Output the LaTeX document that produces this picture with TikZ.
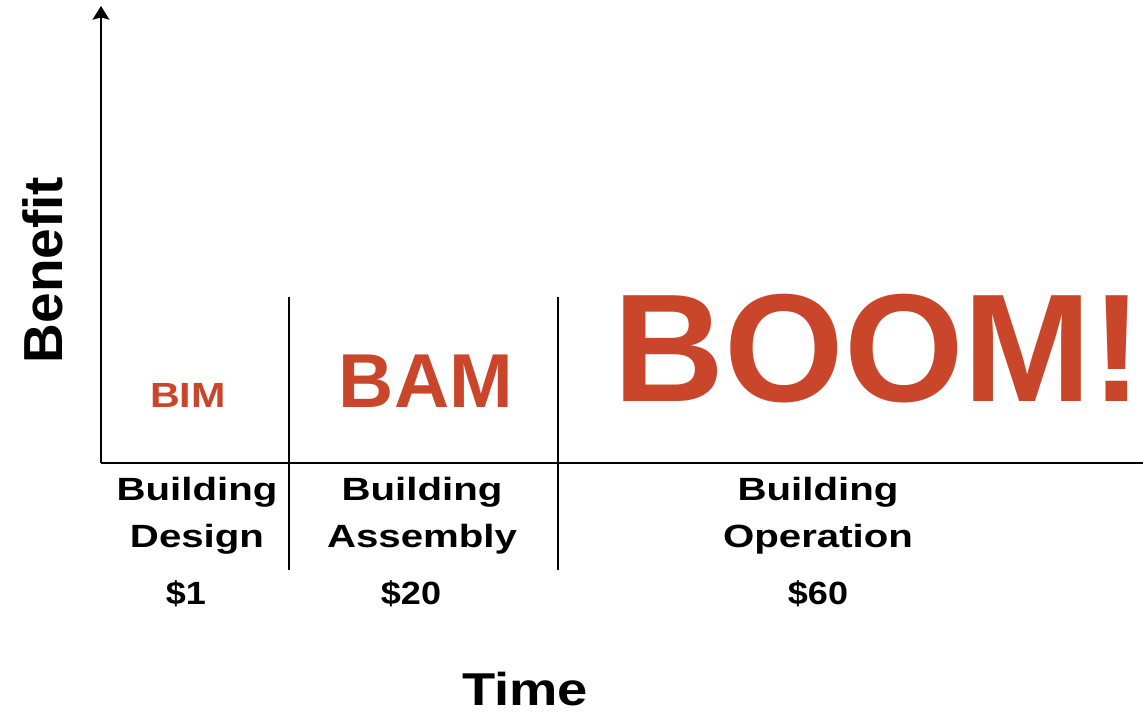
\documentclass[tikz,border=0pt]{standalone}
\usepackage{fontspec}
\setmainfont{Liberation Sans}
\newfontfamily\labelfont[FakeStretch=1.25]{Liberation Sans}
\newfontfamily\costfont[FakeStretch=1.12]{Liberation Sans}
\newfontfamily\widefont[FakeStretch=1.18]{Liberation Sans}
\usetikzlibrary{positioning, arrows.meta}
\definecolor{boomred}{RGB}{201,70,42}
\tikzset{
  axis/.style={line width=1.7pt},
  divider/.style={line width=1.4pt},
  phase/.style={font=\labelfont\fontsize{18.3}{27.3}\selectfont\bfseries, align=center, anchor=base, inner sep=0pt},
  cost/.style={font=\costfont\fontsize{18.3}{22}\selectfont\bfseries, anchor=base, inner sep=0pt},
  shout/.style={text=boomred, inner sep=0pt, anchor=base},
}

\begin{document}
\begin{tikzpicture}[>={Stealth[length=0.27cm, width=0.33cm, inset=0.04cm]}]
   \useasboundingbox (0, 0) rectangle (22.86, 14.4) ;
   % axes
   \coordinate (O) at (2.02, 5.14) ;
   \coordinate (ytop) at (2.02, 14.28) ;
   \coordinate (xend) at (22.9, 5.14) ;
   \draw[axis, ->] (O) -- (ytop) ;
   \draw[axis] (O) -- (xend) ;
   % dividers between phases
   \coordinate (d1top) at (5.78, 8.46) ;
   \coordinate (d1bot) at (5.78, 3.0) ;
   \coordinate (d2top) at (11.16, 8.46) ;
   \coordinate (d2bot) at (11.16, 3.0) ;
   \draw[divider] (d1top) -- (d1bot) ;
   \draw[divider] (d2top) -- (d2bot) ;
   % the three words
   \node[shout, font=\widefont\fontsize{19.9}{19.9}\selectfont\bfseries] (bim) at (3.76, 6.24) {BIM} ;
   \node[shout, font=\fontsize{43.5}{43.5}\selectfont\bfseries] (bam) at (8.52, 6.24) {BAM} ;
   \node[shout, font=\fontsize{87.5}{87.5}\selectfont\bfseries, anchor=base west] (boom) at (12.26, 6.36) {BOOM!} ;
   % phases and costs
   \node[phase] (design) at (3.94, 3.44) {Building\\Design} ;
   \node[phase] (assembly) at (8.44, 3.44) {Building\\Assembly} ;
   \node[phase] (operation) at (16.36, 3.44) {Building\\Operation} ;
   \node[cost] (c1) at (3.72, 2.3) {\$1} ;
   \node[cost] (c20) at (8.22, 2.3) {\$20} ;
   \node[cost] (c60) at (16.36, 2.3) {\$60} ;
   % axis names
   \node[font=\widefont\fontsize{26.2}{26.2}\selectfont\bfseries, anchor=base, inner sep=0pt] (time) at (10.5, 0.3) {Time} ;
   \node[font=\fontsize{31.3}{31.3}\selectfont\bfseries, anchor=base, inner sep=0pt, rotate=90] (benefit) at (1.24, 9.0) {Benefit} ;
\end{tikzpicture}
\end{document}
